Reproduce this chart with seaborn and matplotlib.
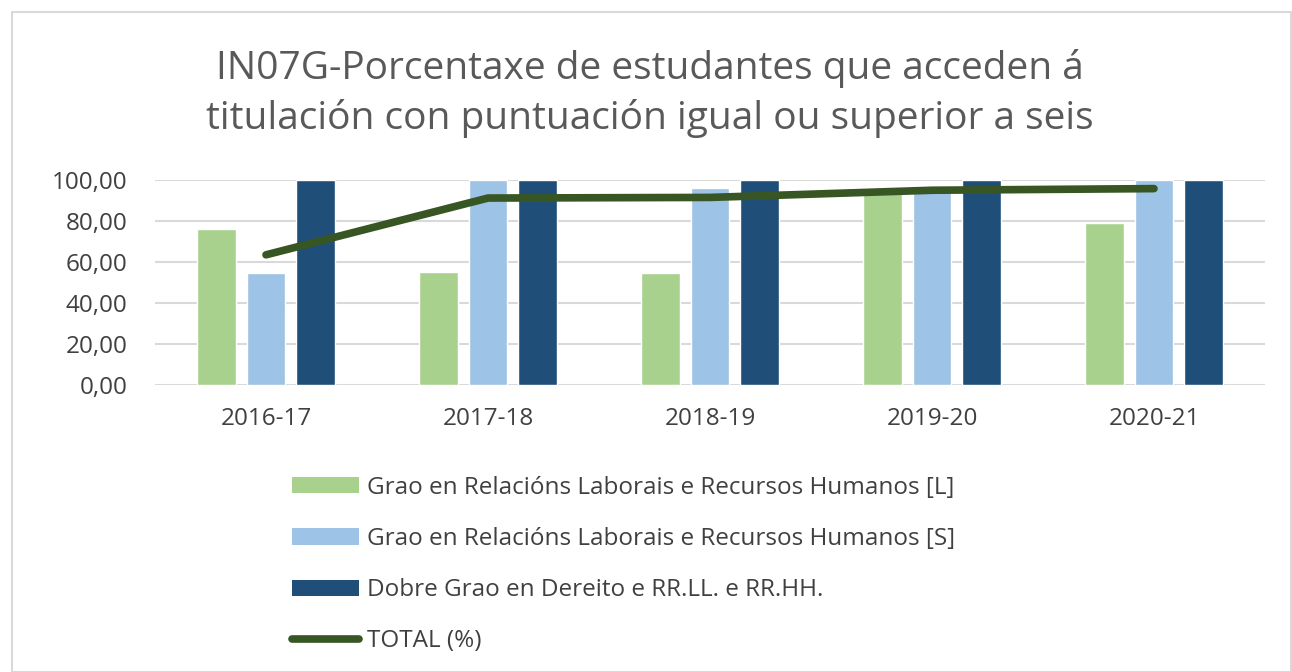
import matplotlib
matplotlib.use("Agg")
import matplotlib.pyplot as plt
import seaborn as sns
import pandas as pd
from matplotlib.patches import Patch, Rectangle
from matplotlib.lines import Line2D
from matplotlib.ticker import FuncFormatter

years = ["2016-17", "2017-18", "2018-19", "2019-20", "2020-21"]
series_names = ["Grao en Relacións Laborais e Recursos Humanos [L]",
                "Grao en Relacións Laborais e Recursos Humanos [S]",
                "Dobre Grao en Dereito e RR.LL. e RR.HH."]
vals_L = [76.2, 55.3, 54.5, 93.5, 79.0]
vals_S = [54.8, 100.0, 96.3, 95.0, 100.0]
vals_D = [100.0, 100.0, 100.0, 100.0, 100.0]
total = [63.5, 91.2, 91.5, 95.0, 95.8]
total_name = "TOTAL (%)"
yticks = [0, 20, 40, 60, 80, 100]

colors = ["#A9D18E", "#9DC3E6", "#1F4E79"]
line_color = "#375623"

sns.set_theme(style="white")
plt.rcParams['font.family'] = ['Open Sans', 'DejaVu Sans']

df = pd.DataFrame({
    "year": years * 3,
    "value": vals_L + vals_S + vals_D,
    "series": [series_names[0]] * 5 + [series_names[1]] * 5 + [series_names[2]] * 5,
})

fig = plt.figure(figsize=(12.92, 6.72), dpi=100)
ax = fig.add_axes([155 / 1292, 1 - 385 / 672, 1110 / 1292, 205 / 672])

sns.barplot(data=df, x="year", y="value", hue="series", palette=colors,
            width=0.67, gap=0.23, ax=ax, legend=False, errorbar=None,
            saturation=1, zorder=2)
sns.lineplot(x=list(range(len(years))), y=total, color=line_color, lw=5.5,
             ax=ax, solid_capstyle="round", zorder=3)

ax.set_xlim(-0.5, 4.5)
ax.set_ylim(0, 100)
ax.set_yticks(yticks)
ax.yaxis.set_major_formatter(FuncFormatter(lambda v, p: f"{v:.2f}".replace(".", ",")))
ax.set_xlabel("")
ax.set_ylabel("")
ax.grid(axis="y", color="#d9d9d9", lw=1.5, zorder=0)
ax.set_axisbelow(True)
for s in ax.spines.values():
    s.set_visible(False)
ax.tick_params(axis="y", labelsize=17.5, pad=20, length=0)
ax.tick_params(axis="x", labelsize=17.5, pad=16, length=0)
for lab in ax.get_yticklabels() + ax.get_xticklabels():
    lab.set_color("#404040")

fig.text(0.503, 1 - 69 / 672, "IN07G-Porcentaxe de estudantes que acceden á",
         ha="center", va="center", fontsize=28, color="#595959")
fig.text(0.503, 1 - 119 / 672, "titulación con puntuación igual ou superior a seis",
         ha="center", va="center", fontsize=28, color="#595959")

handles = [Patch(facecolor=c, edgecolor="none") for c in colors]
handles.append(Line2D([0], [0], color=line_color, lw=5.5, solid_capstyle="round"))
leg = fig.legend(handles, series_names + [total_name], loc="upper left",
                 bbox_to_anchor=(282 / 1292, 1 - 466 / 672), frameon=False,
                 fontsize=17.5, labelspacing=1.12, handlelength=2.75, handleheight=0.65,
                 handletextpad=0.35, borderaxespad=0)
for t in leg.get_texts():
    t.set_color("#404040")

fig.add_artist(Rectangle((12 / 1292, 0), 1 - 13 / 1292, 1 - 12 / 672,
                         transform=fig.transFigure, fill=False,
                         edgecolor="#d9d9d9", lw=1.5))

fig.savefig("out.png", dpi=100)
